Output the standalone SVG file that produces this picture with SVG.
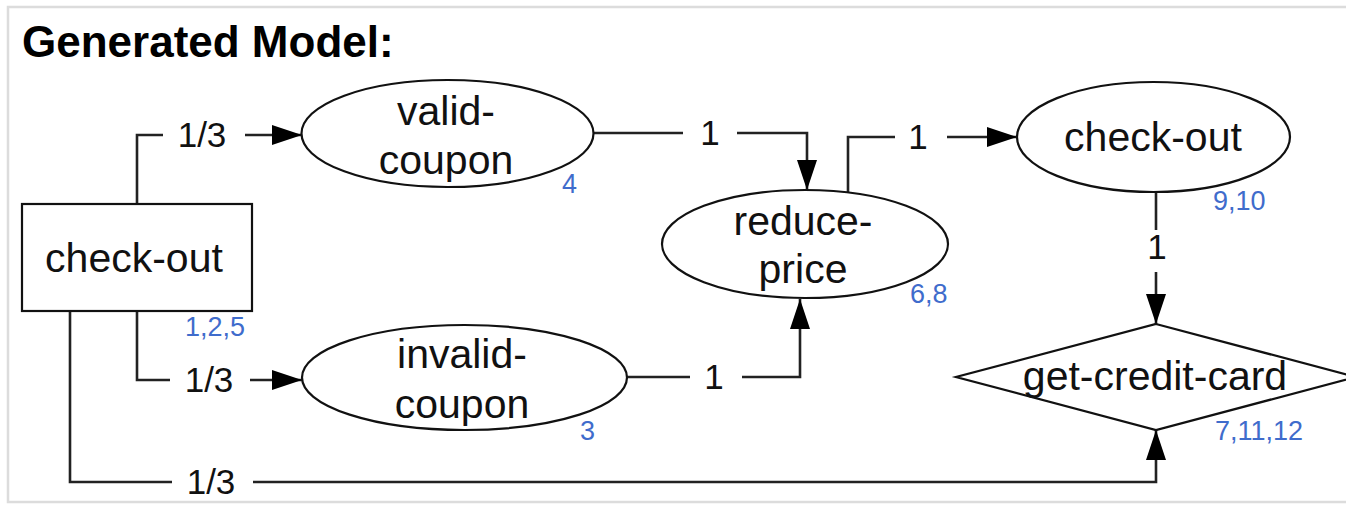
<svg xmlns="http://www.w3.org/2000/svg" width="1346" height="506" viewBox="0 0 1346 506">
<style>
.frame{fill:#fff;stroke:#dcdcdc;stroke-width:2.5}
.node{fill:#fff;stroke:#111;stroke-width:2.2}
.t{font-family:"Liberation Sans",Arial,Helvetica,sans-serif;font-size:41px;fill:#111;text-anchor:middle}
.lbl{font-family:"Liberation Sans",Arial,Helvetica,sans-serif;font-size:35px;fill:#111;text-anchor:middle}
.num{font-family:"Liberation Sans",Arial,Helvetica,sans-serif;font-size:27px;fill:#3f6ccc}
.title{font-family:"Liberation Sans",Arial,Helvetica,sans-serif;font-size:44px;font-weight:bold;fill:#000}
.edge{fill:none;stroke:#222;stroke-width:2.6}
</style>
<defs>
<marker id="arr" markerUnits="userSpaceOnUse" markerWidth="30" markerHeight="20" refX="30" refY="10" orient="auto">
<path d="M0,0 L30,10 L0,20 z" fill="#000"/>
</marker>
</defs>
<rect class="frame" x="8" y="7" width="1360" height="495"/>
<text class="title" x="22" y="57">Generated Model:</text>

<g id="connectors">
<path class="edge" d="M137,204 V135 H163"/>
<path class="edge" d="M245,135 H302" marker-end="url(#arr)"/>
<path class="edge" d="M137,311 V380 H170"/>
<path class="edge" d="M250,380 H302" marker-end="url(#arr)"/>
<path class="edge" d="M70,311 V482 H172"/>
<path class="edge" d="M253,482 H1156 V430" marker-end="url(#arr)"/>
<path class="edge" d="M594,133 H683"/>
<path class="edge" d="M737,133 H807 V190" marker-end="url(#arr)"/>
<path class="edge" d="M627,377 H690"/>
<path class="edge" d="M742,377 H800 V299" marker-end="url(#arr)"/>
<path class="edge" d="M848,193 V137 H895"/>
<path class="edge" d="M947,137 H1017" marker-end="url(#arr)"/>
<path class="edge" d="M1156,192 V230"/>
<path class="edge" d="M1156,272 V324" marker-end="url(#arr)"/>
<text class="lbl" x="202" y="147">1/3</text>
<text class="lbl" x="209" y="392">1/3</text>
<text class="lbl" x="211" y="494">1/3</text>
<text class="lbl" x="710" y="145">1</text>
<text class="lbl" x="714" y="389">1</text>
<text class="lbl" x="918" y="149">1</text>
<text class="lbl" x="1157" y="259">1</text>
</g>

<g id="n-checkout-start">
<rect class="node" x="22" y="204" width="230" height="107"/>
<text class="t" x="134" y="272">check-out</text>
<text class="num" x="185" y="336">1,2,5</text>
</g>

<g id="n-valid-coupon">
<ellipse class="node" cx="447.5" cy="133.5" rx="146" ry="53.5"/>
<text class="t" x="446" y="125">valid-</text>
<text class="t" x="446" y="174">coupon</text>
<text class="num" x="562" y="193">4</text>
</g>

<g id="n-invalid-coupon">
<ellipse class="node" cx="464.5" cy="377.5" rx="162.5" ry="52.5"/>
<text class="t" x="462" y="368">invalid-</text>
<text class="t" x="462" y="418">coupon</text>
<text class="num" x="580" y="440">3</text>
</g>

<g id="n-reduce-price">
<ellipse class="node" cx="805" cy="244" rx="143" ry="54"/>
<text class="t" x="803" y="235">reduce-</text>
<text class="t" x="803" y="283">price</text>
<text class="num" x="910" y="303">6,8</text>
</g>

<g id="n-checkout">
<ellipse class="node" cx="1153.5" cy="137" rx="136.5" ry="55"/>
<text class="t" x="1153" y="151">check-out</text>
<text class="num" x="1213" y="210">9,10</text>
</g>

<g id="n-get-credit-card">
<polygon class="node" points="1156,324 1356,377 1156,430 956,377"/>
<text class="t" x="1155" y="390">get-credit-card</text>
<text class="num" x="1215" y="440">7,11,12</text>
</g>
</svg>
